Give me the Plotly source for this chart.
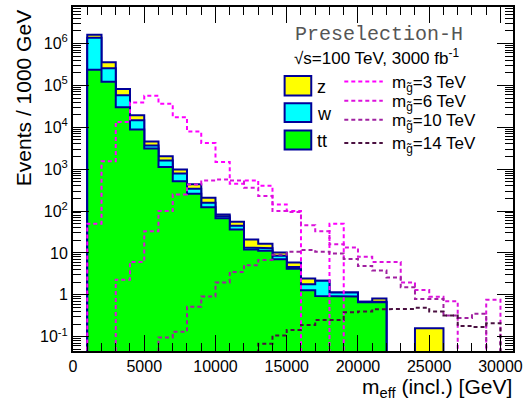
import numpy as np
import plotly.graph_objects as go

# ---------------- data (1000 GeV bins from 0 to 31000 GeV) ----------------
bin_edges = list(range(0, 32000, 1000))

bkg_z = [0, 2.6e5, 1.02e5, 2.4e4, 4.7e3, 920, 430, 196, 95, 50, 8, 10.9, 7.6, 3.6, 1.7, 1.3,
         0.65, 0, 0, 0, 0, 0.14, 0, 0, 0.158, 0.158, 0, 0, 0, 0, 0]
bkg_w = [0, 1.133e6, 1.35e5, 2.8e4, 5.9e3, 580, 480, 271, 82, 34, 8, 8.7, 1.4, 1.8, 1.4, 0.4,
         0.5, 1.22, 0.22, 0.22, 0.02, 0.02, 0, 0, 0, 0, 0, 0, 0, 0, 0]
bkg_tt = [0, 2.37e5, 1.23e5, 3.0e4, 8.9e3, 3.1e3, 1.13e3, 518, 258, 124, 67, 36, 12, 11.2, 7.1, 4.2,
          1.29, 0.93, 0.91, 0.91, 0.66, 0.66, 0, 0, 0, 0, 0, 0, 0, 0, 0]

sig_3 = [0, 50, 1550, 1.34e4, 3.9e4, 5.7e4, 3.66e4, 1.75e4, 7.9e3, 4.2e3, 1.49e3, 447, 537, 401, 144, 100,
         0, 0, 50, 0, 0, 0, 0, 0, 0, 0, 0, 0, 0, 0, 0]
sig_6 = [0, 0, 0, 2.3, 6.1, 33, 100, 250, 433, 537, 569, 537, 359, 228, 100, 95,
         46, 33, 16.1, 13.4, 8.1, 6.1, 6.1, 1.97, 1.3, 0.9, 0.7, 0, 0, 0.76, 0]
sig_10 = [0, 0, 0, 0, 0, 0, 0.096, 0.13, 0.52, 0.91, 1.96, 3.5, 5.1, 6.8, 9.0, 10.6,
          11.8, 10.7, 9.7, 7.2, 4.9, 3.8, 2.6, 1.52, 0.79, 0.79, 0.32, 0.28, 0.35, 0, 0]
sig_14 = [0, 0, 0, 0, 0, 0, 0, 0, 0, 0, 0, 0, 0, 0.068, 0.106, 0.145,
          0.19, 0.25, 0.25, 0.38, 0.40, 0.45, 0.46, 0.46, 0.49, 0.40, 0.32, 0.18, 0.17, 0.21, 0]

sig_labels = ["m<sub>g̃</sub>=3 TeV", "m<sub>g̃</sub>=6 TeV", "m<sub>g̃</sub>=10 TeV", "m<sub>g̃</sub>=14 TeV"]
bkg_labels = ["z", "w", "tt"]
ytick_vals = [0.1, 1, 10, 100, 1e3, 1e4, 1e5, 1e6]
ytick_text = ["10<sup>-1</sup>", "1", "10", "10<sup>2</sup>", "10<sup>3</sup>", "10<sup>4</sup>",
              "10<sup>5</sup>", "10<sup>6</sup>"]
xtick_vals = [0, 5000, 10000, 15000, 20000, 25000, 30000]
xtick_text = ["0", "5000", "10000", "15000", "20000", "25000", "30000"]

# ---------------- style ----------------
FONT = "Liberation Sans"
NAVY = "#000099"
fill_cols = ["#ffff00", "#00ffff", "#00ff00"]
sig_cols = ["#ff00ff", "#dd11dd", "#a020a0", "#4a1040"]
BASE = 1e-3

W, H = 528, 407
L, R, T, B = 73, 519, 5, 351


def step_xy(vals):
    xs, ys = [bin_edges[0]], [BASE]
    for i, v in enumerate(vals):
        vv = v if v > 0 else BASE
        xs += [bin_edges[i], bin_edges[i + 1]]
        ys += [vv, vv]
    xs.append(bin_edges[-1])
    ys.append(BASE)
    return xs, ys


def px(x):
    return (x - L) / (R - L)


def py(y):
    return (B - y) / (B - T)


fig = go.Figure()

tt = np.array(bkg_tt)
ttw = tt + np.array(bkg_w)
tot = ttw + np.array(bkg_z)
for vals, col in zip([tot, ttw, tt], fill_cols):
    xs, ys = step_xy(list(vals))
    fig.add_trace(go.Scatter(x=xs, y=ys, mode="lines", fill="toself", fillcolor=col,
                             line=dict(color=NAVY, width=2), hoverinfo="skip", showlegend=False))

for vals, col in zip([sig_3, sig_6, sig_10, sig_14], sig_cols):
    xs, ys = step_xy(vals)
    fig.add_trace(go.Scatter(x=xs, y=ys, mode="lines",
                             line=dict(color=col, width=2, dash="4px,3px"),
                             hoverinfo="skip", showlegend=False))

# ---------------- legend (drawn) ----------------
shapes = []
ann = []
box_y = [(74.3, 94.0), (101.7, 120.7), (129.3, 148.3)]
for (y0, y1), col, lab in zip(box_y, fill_cols, bkg_labels):
    shapes.append(dict(type="rect", xref="paper", yref="paper", x0=px(287.5), x1=px(314.5),
                       y0=py(y1), y1=py(y0), fillcolor=col, line=dict(color=NAVY, width=2)))
    ann.append(dict(x=px(318), y=py((y0 + y1) / 2 + 1), xref="paper", yref="paper", text=lab,
                    showarrow=False, xanchor="left", yanchor="middle",
                    font=dict(family=FONT, size=18, color="black")))
line_y = [80, 99.3, 118.3, 141.7]
for yy, col, lab in zip(line_y, sig_cols, sig_labels):
    shapes.append(dict(type="line", xref="paper", yref="paper", x0=px(348), x1=px(387),
                       y0=py(yy), y1=py(yy), line=dict(color=col, width=2, dash="4px,3px")))
    ann.append(dict(x=px(394), y=py(yy + 2), xref="paper", yref="paper", text=lab,
                    showarrow=False, xanchor="left", yanchor="middle",
                    font=dict(family=FONT, size=17, color="black")))

ann.append(dict(x=px(383), y=py(33), xref="paper", yref="paper", text="Preselection-H",
                showarrow=False, xanchor="center", yanchor="middle",
                font=dict(family="Liberation Mono", size=20, color="#555555")))
ann.append(dict(x=px(381), y=py(55), xref="paper", yref="paper",
                text="√s=100 TeV, 3000 fb<sup>-1</sup>",
                showarrow=False, xanchor="center", yanchor="middle",
                font=dict(family=FONT, size=17, color="black")))
ann.append(dict(x=px(520), y=py(373), xref="paper", yref="paper",
                text="m<sub>eff</sub> (incl.) [GeV]",
                showarrow=False, xanchor="right", yanchor="top",
                font=dict(family=FONT, size=21, color="black")))
ann.append(dict(x=px(23), y=py(97), xref="paper", yref="paper",
                text="Events / 1000 GeV", textangle=-90,
                showarrow=False, xanchor="center", yanchor="middle",
                font=dict(family=FONT, size=21, color="black")))

minor_y = [k * 10.0 ** e for e in range(-2, 7) for k in range(2, 10)]

fig.update_layout(
    width=W, height=H,
    margin=dict(l=L, r=W - R, t=T, b=H - B, pad=0),
    paper_bgcolor="white", plot_bgcolor="white",
    showlegend=False,
    shapes=shapes, annotations=ann,
    font=dict(family=FONT, size=16, color="black"),
    xaxis=dict(range=[0, 30880], tickmode="array", tickvals=xtick_vals, ticktext=xtick_text,
               ticks="inside", ticklen=16, tickwidth=1, tickcolor="black",
               showline=True, linecolor="black", linewidth=2, mirror="ticks",
               showgrid=False, zeroline=False, ticklabeloverflow="allow",
               tickfont=dict(family=FONT, size=16, color="black"),
               minor=dict(ticks="inside", ticklen=8, tickwidth=1, tickcolor="black",
                          dtick=1000, tick0=0, showgrid=False)),
    yaxis=dict(type="log", range=[-1.343, 6.874], tickmode="array",
               tickvals=ytick_vals, ticktext=ytick_text,
               ticks="inside", ticklen=16, tickwidth=1, tickcolor="black",
               showline=True, linecolor="black", linewidth=2, mirror="ticks",
               showgrid=False, zeroline=False,
               tickfont=dict(family=FONT, size=16, color="black"),
               minor=dict(ticks="inside", ticklen=8, tickwidth=1, tickcolor="black",
                          tickmode="array", tickvals=minor_y, showgrid=False)),
)

fig.write_html("out.html")
